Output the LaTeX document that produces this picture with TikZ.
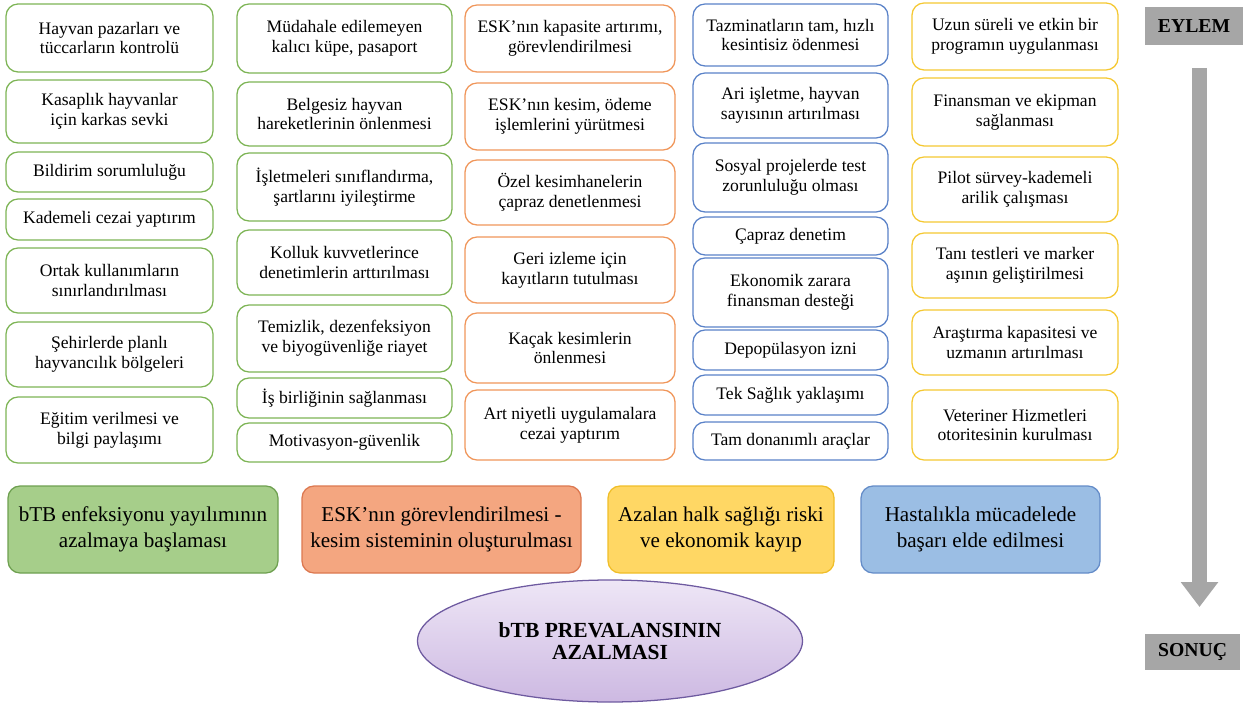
\documentclass[tikz,border=0pt]{standalone}
\usepackage{fontspec}
\setmainfont{Liberation Serif}
\usetikzlibrary{arrows.meta, shapes.geometric, positioning}
\definecolor{greenLine}{RGB}{125,180,85}
\definecolor{orangeLine}{RGB}{240,150,90}
\definecolor{blueLine}{RGB}{90,130,200}
\definecolor{yellowLine}{RGB}{245,200,50}
\definecolor{greenFill}{RGB}{166,206,138}
\definecolor{greenEdge}{RGB}{110,160,80}
\definecolor{orangeFill}{RGB}{244,166,128}
\definecolor{orangeEdge}{RGB}{220,120,80}
\definecolor{yellowFill}{RGB}{255,215,100}
\definecolor{yellowEdge}{RGB}{240,190,40}
\definecolor{blueFill}{RGB}{155,190,228}
\definecolor{blueEdge}{RGB}{100,140,200}
\definecolor{stepGray}{RGB}{166,166,166}
\newcommand{\px}{0.025cm}
\tikzset{
    actBox/.style={draw, rounded corners=0.3cm, line width=0.9pt, fill=white, align=center, inner sep=2pt, font=\fontsize{12.5}{14.2}\selectfont},
    colA/.style={actBox, draw=greenLine, minimum width=207*\px},
    colB/.style={actBox, draw=greenLine, minimum width=215*\px},
    colC/.style={actBox, draw=orangeLine, minimum width=210*\px},
    colD/.style={actBox, draw=blueLine, minimum width=195*\px},
    colE/.style={actBox, draw=yellowLine, minimum width=206*\px},
    resBox/.style={draw, rounded corners=0.3cm, line width=0.9pt, align=center, inner sep=2pt, minimum height=87*\px, font=\fontsize{15}{18.5}\selectfont},
    stageBox/.style={fill=stepGray, inner sep=0pt, font=\fontsize{14}{16}\selectfont\bfseries},
    bigArrow/.style={draw=stepGray, line width=15*\px, -{Triangle[width=36*\px, length=25*\px]}},
}

\begin{document}
\begin{tikzpicture}[x=0.025cm, y=-0.025cm]
    \useasboundingbox (0,0) rectangle (1246,707);

    % first column
    \node[colA, minimum height=68*\px] (a1) at (109.5,38) {Hayvan pazarları ve\\tüccarların kontrolü};
    \node[colA, minimum height=63*\px] (a2) at (109.5,111.5) {Kasaplık hayvanlar\\için karkas sevki};
    \node[colA, minimum height=40*\px] (a3) at (109.5,172) {Bildirim sorumluluğu};
    \node[colA, minimum height=41*\px] (a4) at (109.5,219.5) {Kademeli cezai yaptırım};
    \node[colA, minimum height=65*\px] (a5) at (109.5,280.5) {Ortak kullanımların\\sınırlandırılması};
    \node[colA, minimum height=65*\px] (a6) at (109.5,354.5) {Şehirlerde planlı\\hayvancılık bölgeleri};
    \node[colA, minimum height=66*\px] (a7) at (109.5,430) {Eğitim verilmesi ve\\bilgi paylaşımı};

    % second column
    \node[colB, minimum height=69*\px] (b1) at (344.5,38.5) {Müdahale edilemeyen\\kalıcı küpe, pasaport};
    \node[colB, minimum height=64*\px] (b2) at (344.5,114) {Belgesiz hayvan\\hareketlerinin önlenmesi};
    \node[colB, minimum height=68*\px] (b3) at (344.5,187) {İşletmeleri sınıflandırma,\\şartlarını iyileştirme};
    \node[colB, minimum height=65*\px] (b4) at (344.5,262.5) {Kolluk kuvvetlerince\\denetimlerin arttırılması};
    \node[colB, minimum height=67*\px] (b5) at (344.5,338.5) {Temizlik, dezenfeksiyon\\ve biyogüvenliğe riayet};
    \node[colB, minimum height=40*\px] (b6) at (344.5,398) {İş birliğinin sağlanması};
    \node[colB, minimum height=39*\px] (b7) at (344.5,442.5) {Motivasyon-güvenlik};

    % third column
    \node[colC, minimum height=67*\px] (c1) at (570,38.5) {ESK’nın kapasite artırımı,\\görevlendirilmesi};
    \node[colC, minimum height=67*\px] (c2) at (570,116.5) {ESK’nın kesim, ödeme\\işlemlerini yürütmesi};
    \node[colC, minimum height=65*\px] (c3) at (570,192.5) {Özel kesimhanelerin\\çapraz denetlenmesi};
    \node[colC, minimum height=66*\px] (c4) at (570,270) {Geri izleme için\\kayıtların tutulması};
    \node[colC, minimum height=70*\px] (c5) at (570,348) {Kaçak kesimlerin\\önlenmesi};
    \node[colC, minimum height=70*\px] (c6) at (570,425) {Art niyetli uygulamalara\\cezai yaptırım};

    % fourth column
    \node[colD, minimum height=62*\px] (d1) at (790.5,35) {Tazminatların tam, hızlı\\kesintisiz ödenmesi};
    \node[colD, minimum height=65*\px] (d2) at (790.5,105.5) {Ari işletme, hayvan\\sayısının artırılması};
    \node[colD, minimum height=69*\px] (d3) at (790.5,177.5) {Sosyal projelerde test\\zorunluluğu olması};
    \node[colD, minimum height=38*\px] (d4) at (790.5,236) {Çapraz denetim};
    \node[colD, minimum height=69*\px] (d5) at (790.5,292.5) {Ekonomik zarara\\finansman desteği};
    \node[colD, minimum height=40*\px] (d6) at (790.5,350) {Depopülasyon izni};
    \node[colD, minimum height=40*\px] (d7) at (790.5,395) {Tek Sağlık yaklaşımı};
    \node[colD, minimum height=38*\px] (d8) at (790.5,441) {Tam donanımlı araçlar};

    % fifth column
    \node[colE, minimum height=67*\px] (e1) at (1015,36.5) {Uzun süreli ve etkin bir\\programın uygulanması};
    \node[colE, minimum height=68*\px] (e2) at (1015,112) {Finansman ve ekipman\\sağlanması};
    \node[colE, minimum height=65*\px] (e3) at (1015,189.5) {Pilot sürvey-kademeli\\arilik çalışması};
    \node[colE, minimum height=65*\px] (e4) at (1015,265.5) {Tanı testleri ve marker\\aşının geliştirilmesi};
    \node[colE, minimum height=65*\px] (e5) at (1015,342.5) {Araştırma kapasitesi ve\\uzmanın artırılması};
    \node[colE, minimum height=70*\px] (e6) at (1015,425) {Veteriner Hizmetleri\\otoritesinin kurulması};

    % results
    \node[resBox, draw=greenEdge, fill=greenFill, minimum width=270*\px] (r1) at (143,529.5) {bTB enfeksiyonu yayılımının\\azalmaya başlaması};
    \node[resBox, draw=orangeEdge, fill=orangeFill, minimum width=279*\px] (r2) at (441.5,529.5) {ESK’nın görevlendirilmesi -\\kesim sisteminin oluşturulması};
    \node[resBox, draw=yellowEdge, fill=yellowFill, minimum width=226*\px] (r3) at (721,529.5) {Azalan halk sağlığı riski\\ve ekonomik kayıp};
    \node[resBox, draw=blueEdge, fill=blueFill, minimum width=239*\px] (r4) at (980.5,529.5) {Hastalıkla mücadelede\\başarı elde edilmesi};

    \node[ellipse, draw={rgb,255:red,110;green,90;blue,160}, line width=0.9pt, top color={rgb,255:red,238;green,230;blue,246}, bottom color={rgb,255:red,205;green,185;blue,226}, minimum width=385*\px, minimum height=122*\px, align=center, inner sep=0pt, font=\fontsize{15.3}{16}\selectfont\bfseries] (goal) at (610,641) {bTB PREVALANSININ\\AZALMASI};

    % stages
    \node[stageBox, minimum width=98*\px, minimum height=38*\px] (eylem) at (1194,26) {EYLEM};
    \node[stageBox, minimum width=95*\px, minimum height=36*\px] (sonuc) at (1192.5,652) {SONUÇ};
    \coordinate (arrTop) at (1199.5,68);
    \coordinate (arrTip) at (1199.5,607);
    \draw[bigArrow] (arrTop) -- (arrTip);

\end{tikzpicture}
\end{document}
